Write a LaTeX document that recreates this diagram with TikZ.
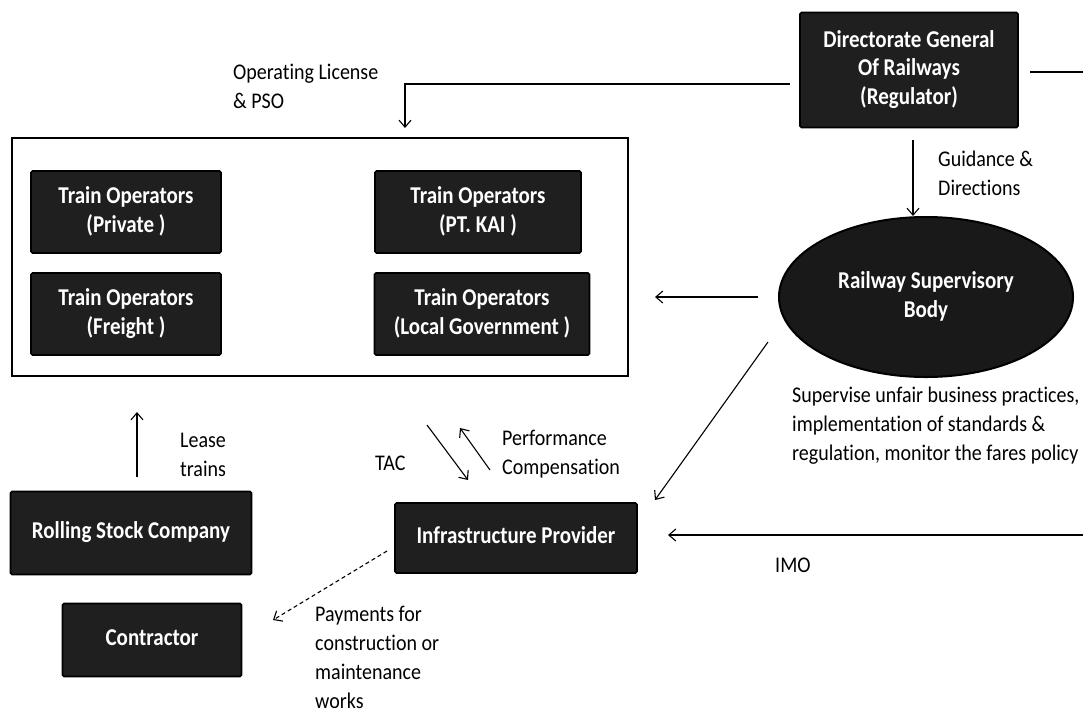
\documentclass[tikz,border=0pt]{standalone}
\usepackage{fontspec}
\usepackage{graphicx}
\setmainfont{Carlito}[Ligatures=NoCommon]
\usetikzlibrary{arrows.meta,shapes.geometric}
\newcommand{\boxtxt}[1]{\scalebox{1}[1.15]{\fontsize{21}{25}\selectfont\bfseries\begin{tabular}{@{}c@{}}#1\end{tabular}}}
\newcommand{\lbltxt}[1]{\scalebox{1}[1.12]{\fontsize{20}{26}\selectfont\begin{tabular}{@{}l@{}}#1\end{tabular}}}
\tikzset{
  darkbox/.style={draw=black, line width=1.6pt, fill=black!88, rounded corners=1.5pt,
    text=white, align=center, inner sep=0pt},
  lbl/.style={anchor=north west, inner sep=0pt},
  arr/.style={line width=1.1pt, -{Straight Barb[length=7pt,width=12pt,line width=1.1pt]}},
}
\begin{document}
\begin{tikzpicture}[x=1pt,y=-1pt]
\useasboundingbox (0,0) rectangle (1083,713);
% nodes
\node[darkbox, minimum width=218, minimum height=115] (dg) at (909,70) {\boxtxt{Directorate General\\Of Railways\\(Regulator)}};
\node[draw=black, line width=2.6pt, minimum width=616, minimum height=238, inner sep=0pt] (ops) at (320,257) {};
\node[darkbox, minimum width=190, minimum height=82] (priv) at (126,212) {\boxtxt{Train Operators\\(Private )}};
\node[darkbox, minimum width=206, minimum height=82] (kai) at (478,212) {\boxtxt{Train Operators\\(PT. KAI )}};
\node[darkbox, minimum width=190, minimum height=82] (frt) at (126,314) {\boxtxt{Train Operators\\(Freight )}};
\node[darkbox, minimum width=215, minimum height=82] (loc) at (482,314) {\boxtxt{Train Operators\\(Local Government )}};
\node[ellipse, draw=black, line width=2pt, fill=black!90, text=white, align=center,
  minimum width=294, minimum height=160, inner sep=0pt] (rsb) at (926,297) {\boxtxt{Railway Supervisory\\Body}};
\node[darkbox, minimum width=242, minimum height=70] (inf) at (516,538) {\boxtxt{Infrastructure Provider}};
\node[darkbox, minimum width=241, minimum height=83] (rsc) at (131,533) {\boxtxt{Rolling Stock Company}};
\node[darkbox, minimum width=179, minimum height=73] (con) at (152,640) {\boxtxt{Contractor}};
% labels
\node[lbl] (l1) at (233,58.6) {\lbltxt{Operating License\\\& PSO}};
\node[lbl] (l2) at (938,145.6) {\lbltxt{Guidance \&\\Directions}};
\node[lbl] (l3) at (792,381.6) {\lbltxt{Supervise unfair business practices,\\implementation of standards \&\\regulation, monitor the fares policy}};
\node[lbl] (l4) at (180,426.6) {\lbltxt{Lease\\trains}};
\node[lbl] (l5) at (375,449.6) {\lbltxt{TAC}};
\node[lbl] (l6) at (502,424.6) {\lbltxt{Performance\\Compensation}};
\node[lbl] (l7) at (775,551.6) {\lbltxt{IMO}};
\node[lbl] (l8) at (315,601) {\lbltxt{Payments for\\construction or\\maintenance\\works}};
% coordinates
\coordinate (dgR) at (1030,72);
\coordinate (edgeR) at (1083,72);
\coordinate (dgL) at (790,84);
\coordinate (bend) at (405,84);
\coordinate (opsTop) at (405,128);
\coordinate (dgB) at (913,140);
\coordinate (rsbT) at (913,216);
\coordinate (rsbL) at (758,297);
\coordinate (opsR) at (655,297);
\coordinate (rsbD) at (768,342);
\coordinate (infTR) at (655,500);
\coordinate (tacA) at (427,425);
\coordinate (tacB) at (468,480);
\coordinate (pcA) at (490,470);
\coordinate (pcB) at (460,428);
\coordinate (imoA) at (1083,535);
\coordinate (imoB) at (668,535);
\coordinate (rscT) at (137,477);
\coordinate (opsB) at (137,412);
\coordinate (infL) at (387,551);
\coordinate (conR) at (273,620);
% connectors
\draw[line width=1.1pt] (dgR) -- (edgeR);
\draw[arr] (dgL) -- (bend) -- (opsTop);
\draw[arr] (dgB) -- (rsbT);
\draw[arr] (rsbL) -- (opsR);
\draw[arr] (rsbD) -- (infTR);
\draw[arr] (tacA) -- (tacB);
\draw[arr] (pcA) -- (pcB);
\draw[arr] (imoA) -- (imoB);
\draw[arr] (rscT) -- (opsB);
\draw[arr, dashed, dash pattern=on 4pt off 3pt] (infL) -- (conR);
\end{tikzpicture}
\end{document}
